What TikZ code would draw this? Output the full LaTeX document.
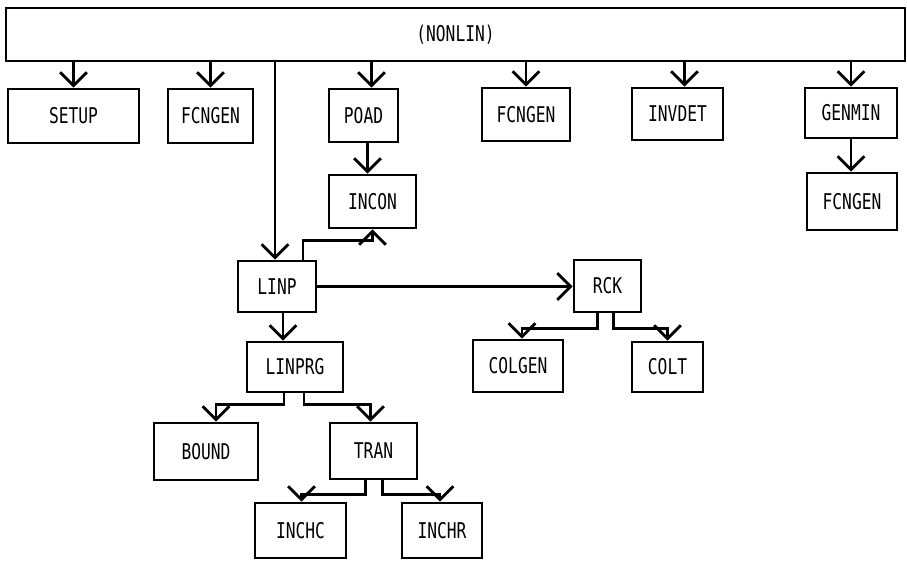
\documentclass[tikz,border=0pt]{standalone}
\usepackage{fontspec}
\newfontfamily\boxfont[FakeStretch=0.75]{DejaVu Sans Mono}
\usetikzlibrary{arrows.meta, calc}
\tikzset{
  box/.style={draw, line width=2.4pt, inner sep=0pt, font=\boxfont\fontsize{18.5}{20}\selectfont},
  arr/.style={-{Straight Barb[length=4mm, width=8mm, line width=2.4pt]}, line width=2.4pt},
}

\begin{document}
\begin{tikzpicture}[x=0.03cm, y=-0.03cm]
    \useasboundingbox (0,0) rectangle (907,560);
    % main program bar
    \node[box, minimum width=26.97cm, minimum height=1.59cm] (nonlin) at (455.5,34.5) {(NONLIN)};
    % first level
    \node[box, minimum width=3.93cm, minimum height=1.62cm] (setup) at (73.5,116) {SETUP};
    \node[box, minimum width=2.55cm, minimum height=1.62cm] (fcngenA) at (210.5,116) {FCNGEN};
    \node[box, minimum width=2.07cm, minimum height=1.59cm] (poad) at (363.5,115.5) {POAD};
    \node[box, minimum width=2.64cm, minimum height=1.59cm] (fcngenB) at (526,114.5) {FCNGEN};
    \node[box, minimum width=2.73cm, minimum height=1.56cm] (invdet) at (677.5,114) {INVDET};
    \node[box, minimum width=2.76cm, minimum height=1.50cm] (genmin) at (851,113) {GENMIN};
    \node[box, minimum width=2.70cm, minimum height=1.71cm] (fcngenC) at (852,201.5) {FCNGEN};
    \node[box, minimum width=2.61cm, minimum height=1.59cm] (incon) at (372.5,201.5) {INCON};
    % linear programming part
    \node[box, minimum width=2.34cm, minimum height=1.53cm] (linp) at (277,286.5) {LINP};
    \node[box, minimum width=2.01cm, minimum height=1.56cm] (rck) at (607.5,286) {RCK};
    \node[box, minimum width=2.88cm, minimum height=1.50cm] (linprg) at (295,367) {LINPRG};
    \node[box, minimum width=2.70cm, minimum height=1.56cm] (colgen) at (518,366) {COLGEN};
    \node[box, minimum width=2.13cm, minimum height=1.50cm] (colt) at (667.5,367) {COLT};
    \node[box, minimum width=3.12cm, minimum height=1.71cm] (bound) at (206,451.5) {BOUND};
    \node[box, minimum width=2.61cm, minimum height=1.68cm] (tran) at (373.5,451) {TRAN};
    \node[box, minimum width=2.73cm, minimum height=1.65cm] (inchc) at (300.5,530.5) {INCHC};
    \node[box, minimum width=2.40cm, minimum height=1.65cm] (inchr) at (442,530.5) {INCHR};

    % calls from the bar
    \draw[arr] (nonlin.south -| setup.north) -- (setup.north);
    \draw[arr] (nonlin.south -| fcngenA.north) -- (fcngenA.north);
    \draw[arr] ($(nonlin.south -| poad.north)+(8,0)$) -- ($(poad.north)+(8,0)$);
    \draw[arr] (nonlin.south -| fcngenB.north) -- (fcngenB.north);
    \draw[arr] ($(nonlin.south -| invdet.north)+(7,0)$) -- ($(invdet.north)+(7,0)$);
    \draw[arr] (nonlin.south -| genmin.north) -- (genmin.north);
    \draw[arr] ($(nonlin.south -| linp.north)+(-2,0)$) -- ($(linp.north)+(-2,0)$);
    \draw[arr] (genmin.south) -- (genmin.south |- fcngenC.north);
    \draw[arr] ($(poad.south)+(4,0)$) -- ($(incon.north)+(-5,0)$);

    % below LINP
    \draw[arr] ($(linp.north)+(26,0)$) -- ++(0,-19) -| (incon.south);
    \draw[arr] (linp.east) -- (linp.east -| rck.west);
    \draw[arr] ($(linp.south)+(6,0)$) -- ($(linprg.north)+(-12,0)$);
    \draw[arr] ($(rck.south)+(-10,0)$) -- ++(0,15) -| ($(colgen.north)+(4,0)$);
    \draw[arr] ($(rck.south)+(6,0)$) -- ++(0,15) -| (colt.north);
    \draw[arr] ($(linprg.south)+(-11,0)$) -- ++(0,11) -| ($(bound.north)+(10,0)$);
    \draw[arr] ($(linprg.south)+(9,0)$) -- ++(0,11) -| ($(tran.north)+(-3,0)$);
    \draw[arr] ($(tran.south)+(-8,0)$) -- ++(0,14) -| ($(inchc.north)+(1,0)$);
    \draw[arr] ($(tran.south)+(9,0)$) -- ++(0,14) -| ($(inchr.north)+(-2,0)$);
\end{tikzpicture}
\end{document}
